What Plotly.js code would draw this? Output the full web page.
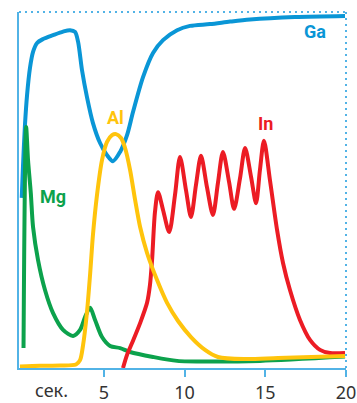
<!DOCTYPE html>
<html>
<head>
<meta charset="utf-8">
<script src="https://cdn.plot.ly/plotly-3.0.1.min.js"></script>
<style>html,body{margin:0;padding:0;background:#fff;}#chart{width:357px;height:403px;}</style>
</head>
<body>
<div id="chart"></div>
<script>
// Time in seconds, signal in relative units (0-100)
const gaX = [-0.08, 0.00, 0.12, 0.25, 0.43, 0.62, 0.87, 1.24, 1.86, 2.48, 2.91, 3.22, 3.41, 3.65, 3.96, 4.33, 4.77, 5.20, 5.57, 6.01, 6.44, 6.81, 7.43, 8.05, 8.67, 9.54, 10.34, 11.58, 12.82, 14.06, 16.84, 19.94];
const gaY = [47.8, 57.0, 68.3, 76.7, 84.3, 88.8, 91.3, 92.4, 93.5, 94.5, 94.9, 94.4, 91.6, 83.7, 76.1, 68.8, 63.2, 59.8, 58.1, 60.7, 65.4, 71.9, 81.7, 88.5, 92.1, 94.9, 96.1, 96.6, 97.3, 97.9, 98.6, 98.9];

const mgX = [0.03, 0.19, 0.31, 0.48, 0.62, 0.93, 1.36, 1.86, 2.48, 3.10, 3.53, 3.84, 4.15, 4.46, 4.89, 5.39, 6.01, 6.63, 8.05, 9.54, 11.64, 14.67, 19.94];
const mgY = [5.6, 67.7, 58.4, 49.2, 39.6, 30.3, 21.9, 15.4, 10.7, 9.0, 10.7, 14.3, 16.9, 13.5, 8.7, 6.2, 5.6, 4.5, 3.1, 2.0, 1.8, 2.0, 3.2];

const alX = [-0.19, 1.05, 2.29, 3.28, 3.53, 3.72, 3.96, 4.15, 4.33, 4.58, 4.89, 5.20, 5.51, 5.76, 6.07, 6.32, 6.63, 6.94, 7.25, 7.68, 8.30, 8.92, 9.60, 10.40, 11.27, 12.07, 13.75, 15.79, 19.94];
const alY = [0.4, 0.6, 0.7, 1.0, 2.2, 6.5, 15.7, 26.1, 37.4, 48.6, 58.4, 63.5, 65.4, 65.7, 64.6, 61.8, 55.6, 47.2, 39.6, 32.3, 24.7, 18.3, 13.2, 8.7, 5.1, 3.1, 2.5, 2.8, 3.4];

const inX = [6.19, 6.44, 6.75, 7.25, 7.68, 7.86, 7.99, 8.17, 8.36, 8.67, 9.05, 9.41, 9.72, 10.09, 10.40, 10.71, 11.02, 11.39, 11.76, 12.07, 12.38, 12.76, 13.07, 13.44, 13.75, 14.12, 14.43, 14.67, 14.92, 15.29, 15.73, 16.10, 16.53, 17.15, 17.77, 18.39, 19.01, 19.94];
const inY = [0.0, 3.7, 7.0, 12.6, 18.3, 23.3, 30.3, 43.8, 49.4, 44.4, 38.2, 48.6, 59.3, 50.0, 42.4, 51.4, 59.6, 50.8, 43.0, 52.0, 60.7, 52.2, 44.7, 53.4, 61.8, 53.7, 46.3, 55.6, 63.8, 52.8, 38.8, 29.5, 21.9, 13.5, 7.9, 5.1, 4.2, 4.2];

const tickVals = [5, 10, 15, 20];
const tickText = ['5', '10', '15', '20'];
const unitLabel = 'сек.';

const colors = {Ga: '#0a96d6', Mg: '#0ca24c', In: '#ec1c24', Al: '#ffc40c'};
const axisColor = '#52b3e6';

function tr(name, x, y) {
  return {x: x, y: y, name: name, mode: 'lines', type: 'scatter',
    line: {color: colors[name], width: 4, shape: 'spline', smoothing: 0.8},
    hoverinfo: 'skip'};
}

const data = [tr('Ga', gaX, gaY), tr('Mg', mgX, mgY), tr('In', inX, inY), tr('Al', alX, alY)];

const lblFont = (c) => ({family: 'Roboto, "Noto Sans", sans-serif', size: 18, color: c, weight: 'bold'});

const layout = {
  width: 357, height: 403,
  margin: {l: 19, r: 11, t: 12, b: 35},
  paper_bgcolor: '#fff', plot_bgcolor: '#fff',
  showlegend: false,
  xaxis: {range: [-0.25, 20], showgrid: false, zeroline: false, showline: true, linecolor: axisColor, linewidth: 2,
    tickmode: 'array', tickvals: tickVals, ticktext: tickText, ticks: 'outside', ticklen: 7, tickwidth: 2, tickcolor: axisColor,
    tickfont: {family: '"Noto Sans", sans-serif', size: 18, color: '#333'}, fixedrange: true},
  yaxis: {range: [0, 100], showgrid: false, zeroline: false, showline: true, linecolor: axisColor, linewidth: 2,
    showticklabels: false, ticks: '', fixedrange: true},
  shapes: [
    {type: 'line', xref: 'paper', yref: 'paper', x0: 0, x1: 1, y0: 1, y1: 1, line: {color: axisColor, width: 2, dash: '2px,4px'}},
    {type: 'line', xref: 'paper', yref: 'paper', x0: 1, x1: 1, y0: 0, y1: 1, line: {color: axisColor, width: 2, dash: '2px,4px'}}
  ],
  annotations: [
    {text: 'Ga', x: 18.1, y: 94.5, xref: 'x', yref: 'y', showarrow: false, font: lblFont(colors.Ga)},
    {text: 'Al', x: 5.7, y: 70.5, xref: 'x', yref: 'y', showarrow: false, font: lblFont(colors.Al)},
    {text: 'In', x: 15.0, y: 68.8, xref: 'x', yref: 'y', showarrow: false, font: lblFont(colors.In)},
    {text: 'Mg', x: 1.86, y: 48.3, xref: 'x', yref: 'y', showarrow: false, font: lblFont(colors.Mg)},
    {text: unitLabel, x: 1.75, y: 0, xref: 'x', yref: 'paper', yanchor: 'middle', yshift: -22, showarrow: false,
      font: {family: '"Noto Sans", sans-serif', size: 18, color: '#333'}}
  ]
};

Plotly.newPlot('chart', data, layout, {displayModeBar: false, staticPlot: true});
</script>
</body>
</html>
